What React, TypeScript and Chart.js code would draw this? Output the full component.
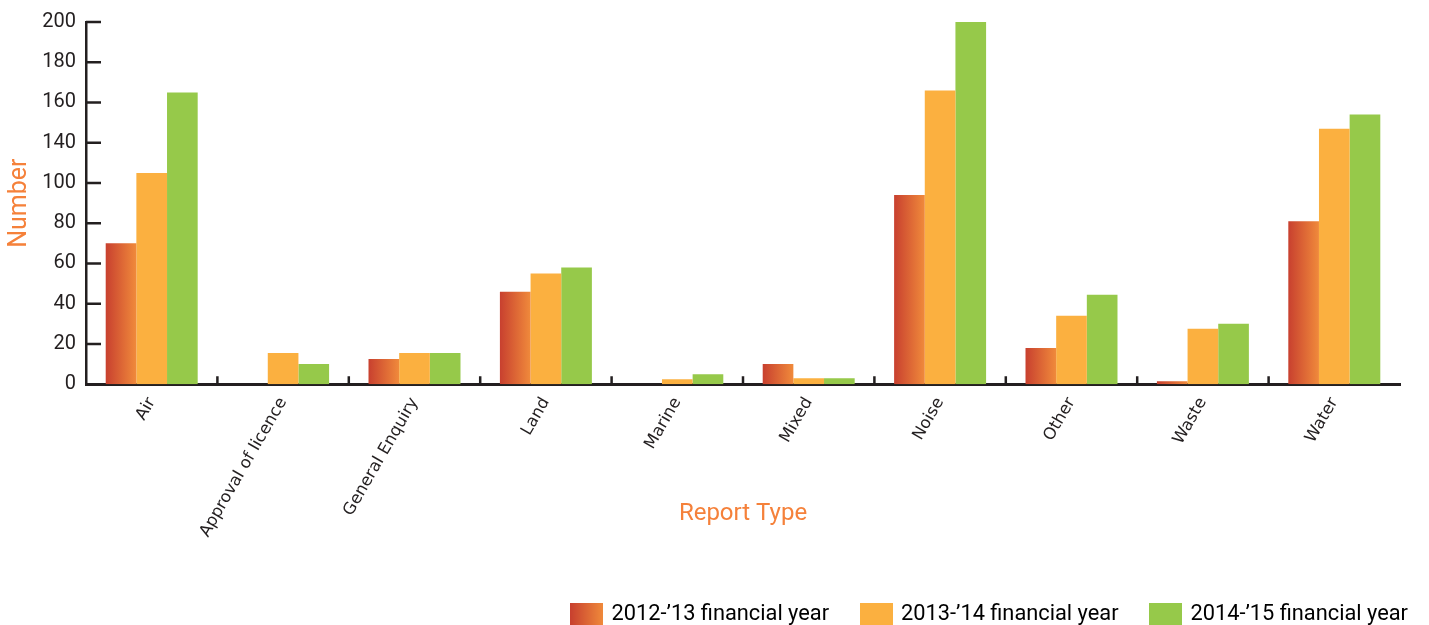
import React from "react";
import Chart, { ChartItem, Plugin } from "chart.js/auto";

// data. The printed axis has 9 equal steps but skips "120",
// so the values are in the axis' own units (0-180) and the labels are listed separately.
const categories = [
  "Air",
  "Approval of licence",
  "General Enquiry",
  "Land",
  "Marine",
  "Mixed",
  "Noise",
  "Other",
  "Waste",
  "Water",
];
const seriesNames = [
  "2012-\u201913 financial year",
  "2013-\u201914 financial year",
  "2014-\u201915 financial year",
];
const fy2012 = [70, 0, 12.5, 46, 0, 10, 94, 18, 1.5, 81];
const fy2013 = [105, 15.5, 15.5, 55, 2.5, 3, 146, 34, 27.5, 127];
const fy2014 = [145, 10, 15.5, 58, 5, 3, 180, 44.5, 30, 134];
const yTickLabels = ["0", "20", "40", "60", "80", "100", "140", "160", "180", "200"];

const RED_A = "#c8402f";
const RED_B = "#f08a3b";
const ORANGE = "#fbb040";
const GREEN = "#96c94a";
const TITLE = "#f5813a";
const INK = "#231f20";
const DIN = "Roboto, 'Noto Sans', sans-serif";

const CAT_PCT = 0.7;

// inner tick marks: y ticks point into the plot, x ticks sit between categories
const tickMarks: Plugin = {
  id: "tickMarks",
  afterDatasetsDraw(chart) {
    const { ctx } = chart;
    const x = chart.scales.x;
    const y = chart.scales.y;
    ctx.save();
    ctx.strokeStyle = INK;
    ctx.lineWidth = 2.5;
    ctx.beginPath();
    y.ticks.forEach((_, i) => {
      if (i === 0) return;
      const py = y.getPixelForTick(i);
      ctx.moveTo(x.left, py);
      ctx.lineTo(x.left + 15, py);
    });
    for (let i = 1; i < categories.length; i++) {
      const px = (x.getPixelForValue(i - 1) + x.getPixelForValue(i)) / 2;
      ctx.moveTo(px, y.bottom);
      ctx.lineTo(px, y.bottom - 8);
    }
    ctx.stroke();
    ctx.restore();
  },
};

function legendSwatch(fill: (c: CanvasRenderingContext2D) => string | CanvasGradient) {
  const c = document.createElement("canvas");
  c.width = 33;
  c.height = 22;
  const g = c.getContext("2d")!;
  g.fillStyle = fill(g);
  g.fillRect(0, 0, 33, 22);
  return c;
}

const App: React.FC = () => {
  const canvasRef = React.useRef<HTMLCanvasElement>(null);

  React.useEffect(() => {
    const swatches = [
      legendSwatch((g) => {
        const gr = g.createLinearGradient(0, 0, 33, 0);
        gr.addColorStop(0, RED_A);
        gr.addColorStop(1, RED_B);
        return gr;
      }),
      legendSwatch(() => ORANGE),
      legendSwatch(() => GREEN),
    ];

    const redBar = (c: any) => {
      const chart = c.chart;
      const x = chart.scales?.x;
      if (!x || c.dataIndex === undefined) return RED_A;
      const catW = x.width / categories.length;
      const left = x.getPixelForValue(c.dataIndex) - (catW * CAT_PCT) / 2;
      const barW = (catW * CAT_PCT) / 3;
      const gr = chart.ctx.createLinearGradient(left, 0, left + barW, 0);
      gr.addColorStop(0, RED_A);
      gr.addColorStop(1, RED_B);
      return gr;
    };

    const chart = new Chart(canvasRef.current as ChartItem, {
      type: "bar",
      data: {
        labels: categories,
        datasets: [
          { label: seriesNames[0], data: fy2012, backgroundColor: redBar },
          { label: seriesNames[1], data: fy2013, backgroundColor: ORANGE },
          { label: seriesNames[2], data: fy2014, backgroundColor: GREEN },
        ],
      },
      options: {
        animation: false,
        responsive: true,
        maintainAspectRatio: false,
        layout: { padding: { top: 0, left: 0, right: 0, bottom: 0 } },
        datasets: {
          bar: { barPercentage: 1, categoryPercentage: CAT_PCT, borderWidth: 0 },
        },
        plugins: {
          tooltip: { enabled: false },
          legend: {
            position: "bottom",
            align: "end",
            labels: {
              usePointStyle: true,
              pointStyleWidth: 28,
              padding: 33,
              color: INK,
              font: { family: DIN, size: 21.8 },
              generateLabels: () =>
                seriesNames.map((name, i) => ({
                  text: name,
                  pointStyle: swatches[i],
                  fillStyle: "transparent",
                  strokeStyle: "transparent",
                  lineWidth: 0,
                  hidden: false,
                  datasetIndex: i,
                })),
            },
          },
        },
        scales: {
          x: {
            grid: { display: false, drawTicks: false },
            border: { display: true, color: INK, width: 3 },
            ticks: {
              color: INK,
              font: { family: "'DejaVu Sans', sans-serif", size: 16.5 },
              minRotation: 60,
              maxRotation: 60,
              padding: 10,
            },
            title: {
              display: true,
              text: "Report Type",
              color: TITLE,
              font: { family: DIN, size: 24 },
              padding: { top: 0, bottom: 42 },
            },
            afterFit: (s: any) => {
              s.height = 186;
            },
          },
          y: {
            min: 0,
            max: 180,
            grid: { display: false, drawTicks: false },
            border: { display: true, color: INK, width: 2.5 },
            ticks: {
              stepSize: 20,
              color: INK,
              padding: 10,
              font: { family: DIN, size: 20 },
              callback: (_v: any, i: number) => yTickLabels[i],
            },
            title: {
              display: true,
              text: "Number",
              color: TITLE,
              font: { family: DIN, size: 25 },
              padding: { top: 5, bottom: 0 },
            },
            afterFit: (s: any) => {
              s.width = 86;
            },
          },
          // empty right-hand axis: keeps the plot short of the legend's right edge
          yRight: {
            position: "right",
            display: true,
            grid: { display: false, drawTicks: false },
            border: { display: false },
            ticks: { display: false },
            afterFit: (s: any) => {
              s.width = 41;
            },
          },
        },
      },
      plugins: [tickMarks],
    });

    return () => {
      chart.destroy();
    };
  }, []);

  return (
    <div style={{ position: "fixed", left: 0, top: 0, width: 1441, height: 635 }}>
      <canvas ref={canvasRef}></canvas>
    </div>
  );
};

export default App;
